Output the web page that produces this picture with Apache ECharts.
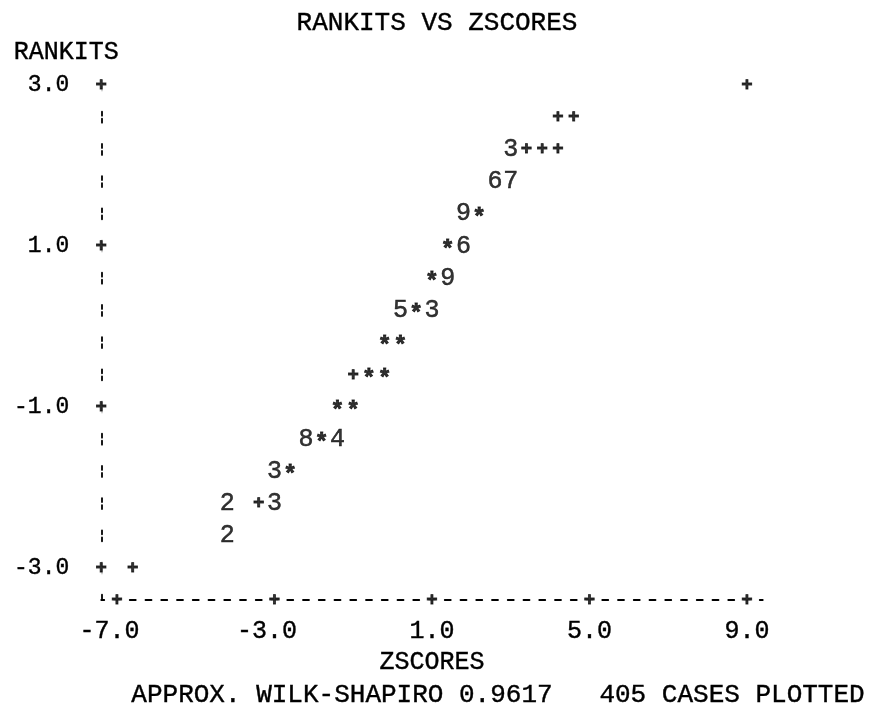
<!DOCTYPE html>
<html><head><meta charset="utf-8">
<script src="https://cdn.jsdelivr.net/npm/echarts@6/dist/echarts.min.js"></script>
<style>html,body{margin:0;padding:0;background:#fff}#c{width:869px;height:709px}</style>
</head><body><div id="c"></div>
<script>
// Printer-plot cells: z-score column, rankit row, plotted character
const zscores = [9.0, 4.2, 4.6, 3.0, 3.4, 3.8, 4.2, 2.6, 3.0, 1.8, 2.2, 1.4, 1.8, 1.0, 1.4, 0.2, 0.6, 1.0, -0.2, 0.2, -1.0, -0.6, -0.2, -1.4, -1.0, -2.2, -1.8, -1.4, -3.0, -2.6, -4.2, -3.4, -3.0, -4.2, -6.6];
const rankits = [3.0, 2.6, 2.6, 2.2, 2.2, 2.2, 2.2, 1.8, 1.8, 1.4, 1.4, 1.0, 1.0, 0.6, 0.6, 0.2, 0.2, 0.2, -0.2, -0.2, -0.6, -0.6, -0.6, -1.0, -1.0, -1.4, -1.4, -1.4, -1.8, -1.8, -2.2, -2.2, -2.2, -2.6, -3.0];
const symbols = ['+', '+', '+', '3', '+', '+', '+', '6', '7', '9', '*', '*', '6', '*', '9', '5', '*', '3', '*', '*', '+', '*', '*', '*', '*', '8', '*', '4', '3', '*', '2', '+', '3', '2', '+'];
const xTicks = [-7, -3, 1, 5, 9];
const yTicks = [3, 1, -1, -3];
const xRange = [-7.4, 9.4];
const yRange = [-3.4, 3.0];
const titleText = 'RANKITS VS ZSCORES';
const xName = 'ZSCORES';
const yName = 'RANKITS';
const footer = 'APPROX. WILK-SHAPIRO 0.9617   405 CASES PLOTTED';

const FONT = '"Liberation Mono", "DejaVu Sans Mono", monospace';
const INK = '#000';
const chart = echarts.init(document.getElementById('c'));

function styleKey(ch) { return ch === '+' ? 'p' : (ch === '*' ? 's' : 'd'); }

const pointData = zscores.map((x, i) => {
  const item = { name: symbols[i], value: [x, rankits[i]] };
  if (symbols[i] === '*') item.label = { offset: [0, 5] };
  return item;
});
const tickMarks = xTicks.map(v => ({ name: '+', value: [v, yRange[0]] }))
  .concat(yTicks.map(v => ({ name: '+', value: [xRange[0], v] })));

const rich = {
  d: { fontFamily: FONT, fontSize: 25, color: INK, textBorderColor: INK, textBorderWidth: 0.5 },
  p: { fontFamily: FONT, fontSize: 19, color: INK, fontWeight: 'bold', textBorderColor: INK, textBorderWidth: 0.8 },
  s: { fontFamily: FONT, fontSize: 23, color: INK, fontWeight: 'bold', textBorderColor: INK, textBorderWidth: 0.8 }
};

chart.setOption({
  animation: false,
  backgroundColor: '#fff',
  grid: { left: 101.25, right: 106.25, top: 85, bottom: 108.8, containLabel: false },
  xAxis: {
    type: 'value', min: xRange[0], max: xRange[1],
    name: xName, nameLocation: 'middle', nameGap: 44,
    nameTextStyle: { fontFamily: FONT, fontSize: 25, color: INK, textBorderColor: INK, textBorderWidth: 0.4 },
    axisLine: { show: true, onZero: false, lineStyle: { color: INK, width: 1.8, type: [6, 9.75], dashOffset: 3 } },
    axisTick: { show: false },
    splitLine: { show: false },
    axisLabel: {
      customValues: xTicks, margin: 19,
      fontFamily: FONT, fontSize: 25, color: INK, align: 'center', textBorderColor: INK, textBorderWidth: 0.4,
      formatter: v => (v < 0 ? '' : ' ') + v.toFixed(1) + ' '
    }
  },
  yAxis: {
    type: 'value', min: yRange[0], max: yRange[1],
    name: yName, nameLocation: 'end', nameGap: 20,
    nameTextStyle: { fontFamily: FONT, fontSize: 25, color: INK, align: 'center', padding: [0, 70, 0, 0], textBorderColor: INK, textBorderWidth: 0.4 },
    axisLine: { show: true, onZero: false, lineStyle: { color: INK, width: 1.8, type: [4, 3, 4, 21.2], dashOffset: 5.5 } },
    axisTick: { show: false },
    splitLine: { show: false },
    axisLabel: {
      customValues: yTicks, margin: 32,
      fontFamily: FONT, fontSize: 23, color: INK, textBorderColor: INK, textBorderWidth: 0.4,
      formatter: v => v.toFixed(1)
    }
  },
  graphic: [
    { type: 'text', x: 437, y: 23, style: { text: titleText, font: '26px ' + FONT, fill: INK, stroke: INK, lineWidth: 0.4, align: 'center', verticalAlign: 'middle' } },
    { type: 'text', x: 498, y: 695, style: { text: footer, font: '26px ' + FONT, fill: INK, stroke: INK, lineWidth: 0.4, align: 'center', verticalAlign: 'middle' } }
  ],
  series: [
    {
      type: 'scatter', name: 'ticks', data: tickMarks, clip: false,
      symbolSize: 1, itemStyle: { color: 'rgba(0,0,0,0)' }, silent: true,
      label: { show: true, position: 'inside', backgroundColor: '#fff', padding: [3, 2],
        formatter: p => '{p|' + p.name + '}', rich: rich }
    },
    {
      type: 'scatter', name: 'rankits', data: pointData, clip: false,
      symbolSize: 1, itemStyle: { color: 'rgba(0,0,0,0)' },
      label: { show: true, position: 'inside',
        formatter: p => '{' + styleKey(p.name) + '|' + p.name + '}', rich: rich }
    }
  ]
});
</script></body></html>
